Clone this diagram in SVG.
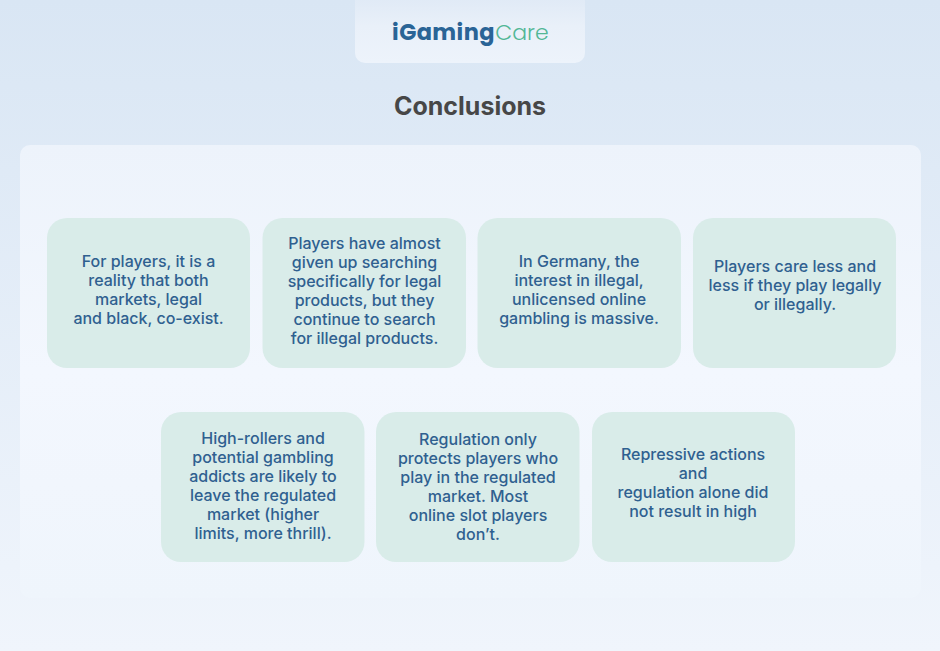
<svg xmlns="http://www.w3.org/2000/svg" width="940" height="651" viewBox="0 0 940 651">
<defs>
<linearGradient id="bg" x1="0" y1="0" x2="0" y2="1"><stop offset="0" stop-color="#d9e6f4"/><stop offset="1" stop-color="#f0f5fc"/></linearGradient>
<linearGradient id="panel" x1="0" y1="0" x2="0" y2="1"><stop offset="0" stop-color="#edf3fb"/><stop offset="0.5" stop-color="#f3f7fe"/><stop offset="1" stop-color="#eff5fc"/></linearGradient>
<linearGradient id="logo" x1="0" y1="0" x2="0" y2="1"><stop offset="0" stop-color="#dde8f5"/><stop offset="0.5" stop-color="#e9f0f9"/><stop offset="1" stop-color="#edf3fb"/></linearGradient>
</defs>
<style>
.card{fill:#d9ece9}
.t{font-family:Inter,"Liberation Sans",sans-serif;font-size:16px;font-weight:500;fill:#2f6090;text-anchor:middle}
</style>
<rect width="940" height="651" fill="url(#bg)"/>
<g id="logo-box"><rect x="355" y="-10" width="230" height="73" rx="10" fill="url(#logo)"/>
<text x="443.500" y="40" font-family="Poppins,Inter,'Liberation Sans',sans-serif" font-size="22.500" font-weight="700" letter-spacing="0.400" fill="#2a6496" text-anchor="middle">iGaming</text>
<text x="522" y="40" font-family="Poppins,Inter,'Liberation Sans',sans-serif" font-size="22" font-weight="300" fill="#52b796" text-anchor="middle">Care</text></g>
<text id="title" x="470" y="115" font-family="Inter,'Liberation Sans',sans-serif" font-size="25" font-weight="700" fill="#474747" text-anchor="middle">Conclusions</text>
<rect id="panel-bg" x="20" y="145" width="901" height="453" rx="10" fill="url(#panel)"/>
<g id="c1"><rect class="card" x="47" y="218" width="203" height="150" rx="20"/><text class="t"><tspan x="148.500" y="267">For players, it is a</tspan><tspan x="148.500" y="286">reality that both</tspan><tspan x="148.500" y="305">markets, legal</tspan><tspan x="148.500" y="324">and black, co-exist.</tspan></text></g>
<g id="c2"><rect class="card" x="262.500" y="218" width="203.500" height="150" rx="20"/><text class="t"><tspan x="364.500" y="249">Players have almost</tspan><tspan x="364.500" y="268">given up searching</tspan><tspan x="364.500" y="287">specifically for legal</tspan><tspan x="364.500" y="306">products, but they</tspan><tspan x="364.500" y="325">continue to search</tspan><tspan x="364.500" y="344">for illegal products.</tspan></text></g>
<g id="c3"><rect class="card" x="477.500" y="218" width="203.500" height="150" rx="20"/><text class="t"><tspan x="579" y="267">In Germany, the</tspan><tspan x="579" y="286">interest in illegal,</tspan><tspan x="579" y="305">unlicensed online</tspan><tspan x="579" y="324">gambling is massive.</tspan></text></g>
<g id="c4"><rect class="card" x="693" y="218" width="203" height="150" rx="20"/><text class="t"><tspan x="795" y="272">Players care less and</tspan><tspan x="795" y="291">less if they play legally</tspan><tspan x="795" y="310">or illegally.</tspan></text></g>
<g id="c5"><rect class="card" x="161" y="412" width="203.500" height="150" rx="20"/><text class="t"><tspan x="263" y="444">High-rollers and</tspan><tspan x="263" y="463">potential gambling</tspan><tspan x="263" y="482">addicts are likely to</tspan><tspan x="263" y="501">leave the regulated</tspan><tspan x="263" y="520">market (higher</tspan><tspan x="263" y="539">limits, more thrill).</tspan></text></g>
<g id="c6"><rect class="card" x="376" y="412" width="203.500" height="150" rx="20"/><text class="t"><tspan x="478" y="445">Regulation only</tspan><tspan x="478" y="464">protects players who</tspan><tspan x="478" y="483">play in the regulated</tspan><tspan x="478" y="502">market. Most</tspan><tspan x="478" y="521">online slot players</tspan><tspan x="478" y="540">don’t.</tspan></text></g>
<g id="c7"><rect class="card" x="592" y="412" width="203" height="150" rx="20"/><text class="t"><tspan x="693" y="460">Repressive actions</tspan><tspan x="693" y="479">and</tspan><tspan x="693" y="498">regulation alone did</tspan><tspan x="693" y="517">not result in high</tspan></text></g>
</svg>
